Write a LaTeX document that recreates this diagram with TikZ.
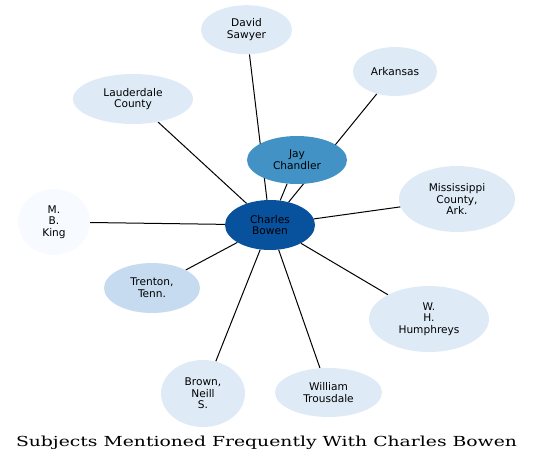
\documentclass[tikz,border=0pt]{standalone}
\usepackage{fontspec}
\usepackage{graphicx}
\newfontfamily\labelfont{DejaVu Sans}
\newfontfamily\titlefont{DejaVu Serif}
\usetikzlibrary{shapes.geometric,backgrounds}
\definecolor{blueA}{HTML}{08519C}
\definecolor{blueB}{HTML}{4292C6}
\definecolor{blueC}{HTML}{C6DBEF}
\definecolor{blueD}{HTML}{DEEBF7}
\definecolor{blueE}{HTML}{F7FBFF}
\begin{document}
\begin{tikzpicture}[
x=1pt,y=-1pt,
subj/.style={%
ellipse,
inner sep=0pt,
align=center,
font=\labelfont\fontsize{10.6}{11.6}\selectfont,
fill=blueD,
minimum width=84pt,
minimum height=49pt
},
link/.style={%
line width=1pt,
black
},
ttl/.style={
font=\titlefont,
anchor=base
}
]

\useasboundingbox(0,0)rectangle(533,463);

%center
\node[subj,fill=blueA,minimum width=90pt,minimum height=50pt](cb)at(270,225){Charles\\Bowen};
\node[subj,fill=blueB,minimum width=100pt,minimum height=48pt](jc)at(297,160){Jay\\Chandler};

\node[subj,minimum width=91pt](ds)at(246.5,29.7){David\\Sawyer};
\node[subj](ar)at(395,71.5){Arkansas};
\node[subj,minimum width=120pt,minimum height=50pt](lc)at(133,99){Lauderdale\\County};
\node[subj,minimum width=116pt,minimum height=66pt](mc)at(457,199){Mississippi\\County,\\Ark.};
\node[subj,fill=blueE,minimum width=72pt,minimum height=66pt](mb)at(54,222){M.\\B.\\King};
\node[subj,fill=blueC,minimum width=96pt,minimum height=50pt](tt)at(152,288){Trenton,\\Tenn.};
\node[subj,minimum width=120pt,minimum height=66pt](wh)at(429,319){W.\\H.\\Humphreys};
\node[subj,minimum height=67pt](bn)at(203,393.5){Brown,\\Neill\\S.};
\node[subj,minimum width=107pt](wt)at(328.5,392.5){William\\Trousdale};

\begin{pgfonlayer}{background}
\foreach \n in {jc,ds,ar,lc,mc,mb,tt,wh,bn,wt}
  \draw[link](cb)--(\n);
\end{pgfonlayer}

\node[ttl](title)at(266.5,446){\resizebox{501pt}{10.5pt}{Subjects Mentioned Frequently With Charles Bowen}};

\end{tikzpicture}
\end{document}
